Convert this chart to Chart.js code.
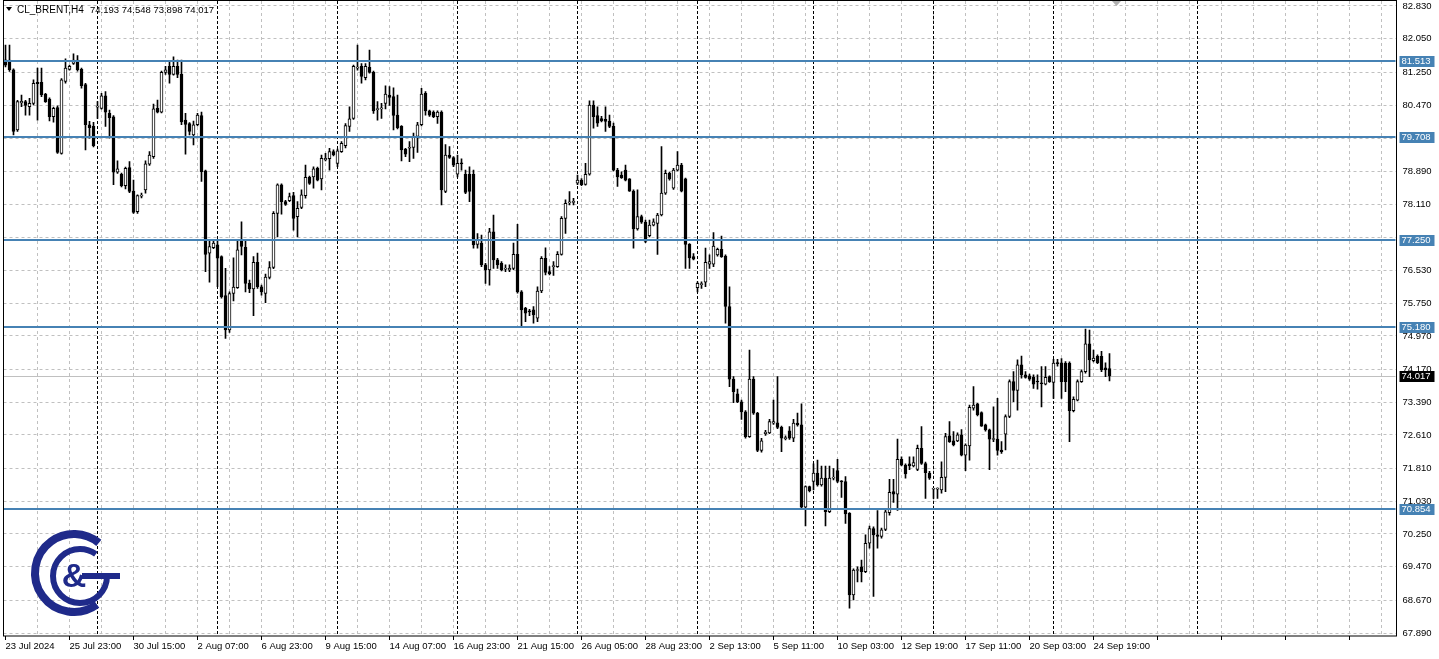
<!DOCTYPE html>
<html>
<head>
<meta charset="utf-8">
<script src="https://cdn.jsdelivr.net/npm/chart.js@4.4.1/dist/chart.umd.min.js"></script>
<style>
  html, body { margin: 0; padding: 0; background: #fff; overflow: hidden; }
</style>
</head>
<body>
<canvas id="myChart" width="1439" height="659"></canvas>
<script>

// CL_BRENT H4 candles, 23 Jul 2024 .. 24 Sep 2024
var opens = [
  81.55,81.54,81.31,79.88,80.52,80.55,80.43,80.51,81.01,81.01,80.73,80.61,80.19,80.41,79.32,81.03,81.32,81.46,81.54,81.32,
  80.96,80.00,79.96,80.42,80.39,80.69,80.27,80.19,78.87,78.82,78.55,78.98,78.42,77.93,78.30,78.45,79.06,79.24,80.39,80.30,
  81.25,81.39,81.20,81.39,81.20,80.11,80.03,79.76,80.00,80.22,78.90,76.94,77.07,77.14,76.86,75.93,75.11,75.98,76.12,77.22,
  77.08,76.22,76.09,76.72,76.14,75.98,76.36,76.60,77.89,78.57,78.17,78.19,78.31,77.81,78.03,78.31,78.75,78.76,78.96,78.71,
  79.16,79.19,79.36,79.08,79.36,79.50,79.96,80.15,81.35,81.39,81.12,81.37,81.25,80.36,80.38,80.51,80.71,80.67,80.23,79.96,
  79.42,79.44,79.46,79.72,80.00,80.75,80.33,80.30,80.19,80.30,78.41,79.28,79.22,78.82,79.08,78.82,78.82,78.82,77.15,77.18,
  76.66,76.54,77.45,76.78,76.70,76.56,76.54,76.58,76.91,76.02,75.63,75.55,75.59,75.39,76.04,76.82,76.50,76.62,76.62,76.91,
  77.77,78.14,78.15,78.61,78.68,78.58,78.82,80.47,80.22,80.15,80.13,80.09,79.96,78.92,78.80,78.92,78.71,78.42,77.52,77.81,
  77.68,77.36,77.61,77.65,77.85,78.37,78.84,78.49,78.92,79.04,78.71,77.15,76.86,76.12,76.19,76.25,76.68,76.68,76.90,77.03,
  76.87,75.67,73.94,73.59,73.40,73.16,72.57,73.94,73.13,72.24,72.64,72.66,72.89,72.90,72.79,72.52,72.71,72.53,72.89,72.85,
  70.89,71.38,71.50,71.70,71.42,71.58,70.78,71.58,71.76,71.50,71.50,70.74,68.80,69.38,69.47,69.35,70.03,70.38,70.23,70.19,
  70.36,70.76,71.26,71.20,72.03,71.89,71.92,71.87,71.79,72.29,71.93,71.70,71.32,71.32,71.30,71.60,72.59,72.47,72.47,72.61,
  72.13,72.35,73.25,73.35,73.14,72.85,72.73,72.50,72.51,72.25,72.63,73.05,73.88,73.67,74.28,74.04,74.02,73.98,73.88,73.84,
  73.82,74.00,73.86,74.32,74.33,74.32,74.32,73.19,73.44,73.88,74.12,74.78,74.38,74.48,74.48,74.21,74.193
];
var highs = [
  81.90,81.90,81.33,80.58,80.71,80.58,80.63,81.07,81.35,81.35,80.75,80.64,80.42,80.45,81.10,81.57,81.42,81.69,81.65,81.35,
  80.99,80.08,80.06,80.55,80.75,80.79,80.35,80.22,79.14,78.85,78.99,79.12,78.68,78.33,78.37,79.14,79.36,80.49,80.59,81.28,
  81.39,81.50,81.62,81.54,81.54,80.27,80.05,80.09,80.27,80.30,78.92,77.22,77.26,77.22,76.88,76.58,76.02,76.83,77.23,77.69,
  77.23,76.30,76.86,76.94,76.18,76.44,76.74,77.93,78.59,78.59,78.20,78.37,78.39,78.17,78.45,79.04,78.78,79.00,78.99,79.28,
  79.32,79.44,79.40,79.42,79.60,80.03,80.43,81.42,81.90,81.46,81.46,81.78,81.28,80.55,80.51,80.93,80.91,80.88,80.71,79.98,
  79.44,79.60,79.80,80.06,80.87,80.79,80.35,80.33,80.33,80.33,79.53,79.48,79.24,79.28,79.19,78.92,79.00,78.92,77.41,77.37,
  76.70,77.53,77.85,76.82,76.74,76.66,76.66,77.18,77.63,76.05,75.65,75.60,75.67,76.14,76.86,77.07,76.62,76.74,76.98,77.81,
  78.21,78.41,78.25,78.80,78.72,79.08,80.57,80.57,80.43,80.20,80.43,80.23,80.04,78.96,78.88,79.04,78.72,78.45,78.45,77.85,
  77.73,77.73,77.76,77.89,79.48,78.92,78.87,78.96,79.36,79.08,78.73,77.17,76.93,76.26,76.26,77.06,76.90,77.43,77.06,77.35,
  76.90,76.14,74.00,73.70,73.44,73.19,74.63,74.00,73.15,72.53,72.72,72.98,73.44,74.00,72.82,72.59,72.81,72.98,73.13,73.35,
  71.40,71.39,71.92,72.01,71.87,71.87,71.87,71.81,72.03,71.52,71.62,70.76,69.42,69.47,69.63,70.23,70.44,70.42,70.81,70.39,
  70.82,71.55,71.55,72.51,72.09,71.92,72.09,72.09,72.37,72.81,71.96,71.74,71.34,71.35,71.97,72.65,72.93,72.69,72.66,72.74,
  72.40,73.32,73.76,73.36,73.16,72.87,72.75,73.28,73.48,72.45,73.09,73.92,74.12,74.40,74.49,74.12,74.06,74.04,74.04,74.24,
  74.24,74.02,74.41,74.41,74.43,74.36,74.35,73.52,73.92,74.16,75.13,75.11,74.63,74.52,74.60,74.33,74.548
];
var lows = [
  81.38,81.27,79.76,79.84,80.43,80.23,80.23,80.47,80.11,80.67,80.53,80.09,80.06,79.32,79.30,80.99,81.30,81.44,81.28,80.87,
  79.40,79.68,79.47,80.15,80.37,79.96,79.68,78.57,78.84,78.52,78.47,78.38,77.89,77.89,78.26,78.37,79.03,79.20,80.28,80.28,
  81.20,80.99,81.18,81.12,80.00,79.30,79.76,79.52,79.97,78.65,76.50,76.25,77.05,76.14,75.87,74.91,75.05,75.80,76.10,76.90,
  76.02,76.00,75.45,76.10,75.94,75.76,76.33,76.57,77.33,77.87,78.08,78.17,77.49,77.33,78.00,78.25,78.58,78.49,78.66,78.45,
  79.14,78.92,79.26,79.00,79.34,79.45,79.84,80.13,81.30,80.99,81.07,81.23,80.27,80.11,80.15,80.38,80.46,79.88,79.90,79.14,
  79.24,79.12,79.20,79.34,79.97,80.23,80.20,80.17,80.03,78.09,78.38,79.20,79.00,78.76,78.92,78.36,78.17,77.06,77.06,76.62,
  76.22,76.18,76.58,76.58,76.52,76.50,76.50,76.55,75.99,75.19,75.31,75.45,75.27,75.31,76.00,76.42,76.42,76.41,76.60,76.89,
  77.41,78.09,78.09,78.57,78.55,78.56,78.80,79.92,79.96,80.07,79.84,79.93,78.90,78.53,78.72,78.66,78.41,77.06,77.49,77.65,
  77.19,77.33,77.59,76.91,77.83,78.34,78.68,78.46,78.90,78.40,76.58,76.58,76.78,76.02,76.10,76.14,76.58,76.62,76.87,76.84,
  75.27,73.76,73.38,73.38,72.98,72.53,72.55,73.10,72.21,72.20,72.60,72.64,72.86,72.76,72.21,72.49,72.50,72.45,72.82,70.86,
  70.44,71.25,71.30,71.39,71.39,70.44,70.76,71.54,71.47,71.12,70.50,68.48,68.68,69.11,69.11,69.33,69.91,68.76,69.91,70.15,
  70.33,70.70,71.00,70.81,71.87,71.58,71.78,71.85,71.76,71.91,71.10,71.55,71.10,71.10,71.22,71.26,72.43,72.35,72.45,72.11,
  71.76,72.01,73.20,73.06,72.81,72.70,71.78,72.45,72.13,72.17,72.25,73.02,73.40,73.20,73.96,73.96,73.91,73.72,73.70,73.28,
  73.80,73.86,73.48,74.25,73.48,73.64,72.45,73.16,73.42,73.86,74.08,74.00,74.35,74.31,74.12,74.00,73.898
];
var closes = [
  81.42,81.31,79.84,80.55,80.56,80.46,80.51,80.99,80.98,80.71,80.55,80.19,80.39,79.34,81.07,81.35,81.39,81.54,81.31,80.93,
  80.00,79.93,79.50,80.44,80.69,80.30,80.17,78.87,78.95,78.55,78.96,78.41,77.91,78.31,78.32,79.07,79.28,80.38,80.30,81.25,
  81.31,81.20,81.39,81.20,80.07,80.01,79.84,80.00,80.23,78.88,76.91,77.10,77.18,76.82,75.90,75.11,75.98,76.13,77.02,77.10,
  76.22,76.09,76.72,76.14,76.02,76.37,76.60,77.89,78.57,78.17,78.10,78.29,77.77,78.01,78.33,78.75,78.60,78.95,78.68,79.20,
  79.20,79.36,79.28,79.38,79.56,79.98,80.14,81.39,81.37,81.15,81.39,81.25,80.33,80.38,80.39,80.73,80.65,80.22,79.93,79.40,
  79.30,79.45,79.72,80.00,80.73,80.33,80.23,80.19,80.30,78.45,79.28,79.22,79.04,79.08,79.07,78.39,78.41,77.14,77.26,76.66,
  76.54,77.45,76.78,76.66,76.54,76.57,76.58,76.91,76.02,75.59,75.51,75.54,75.47,76.04,76.82,76.48,76.45,76.63,76.91,77.77,
  78.13,78.15,78.16,78.68,78.57,78.82,80.47,80.19,80.04,80.09,80.08,79.96,78.92,78.76,78.74,78.68,78.42,77.52,77.81,77.68,
  77.22,77.61,77.69,77.85,78.37,78.84,78.71,78.92,79.04,78.42,77.15,76.83,76.80,76.22,76.20,76.72,76.74,77.11,77.03,76.86,
  75.67,73.94,73.64,73.40,73.16,72.57,73.94,73.13,72.24,72.47,72.68,72.93,72.93,72.79,72.53,72.53,72.53,72.89,72.85,70.89,
  71.38,71.28,71.70,71.42,71.58,70.78,71.58,71.59,71.50,71.49,70.73,68.80,69.39,69.40,69.35,70.03,70.38,70.23,70.19,70.35,
  70.78,71.24,71.20,72.03,71.89,71.68,71.87,71.95,72.29,71.93,71.71,71.58,71.32,71.33,71.60,72.57,72.45,72.37,72.61,72.13,
  72.37,73.27,73.32,73.09,72.82,72.73,72.51,72.51,72.24,72.21,73.05,73.88,73.67,74.28,74.04,73.98,73.94,73.82,73.87,73.83,
  73.98,73.88,74.32,74.31,73.88,73.88,73.19,73.46,73.88,74.12,74.78,74.40,74.44,74.33,74.16,74.16,74.017
];

// time axis: one slot per H4 bar plus the empty shift area on the right
var totalSlots = 348;
var dateLabels = ['23 Jul 2024', '25 Jul 23:00', '30 Jul 15:00', '2 Aug 07:00', '6 Aug 23:00', '9 Aug 15:00',
  '14 Aug 07:00', '16 Aug 23:00', '21 Aug 15:00', '26 Aug 05:00', '28 Aug 23:00', '2 Sep 13:00',
  '5 Sep 11:00', '10 Sep 03:00', '12 Sep 19:00', '17 Sep 11:00', '20 Sep 03:00', '24 Sep 19:00'];
var labelEvery = 16;
var gridEvery = 8;
var weekStarts = [23, 53, 83, 113, 143, 173, 202, 232, 262, 298];

var priceTicks = [82.830, 82.050, 81.250, 80.470, 79.670, 78.890, 78.110, 77.310, 76.530, 75.750,
  74.970, 74.170, 73.390, 72.610, 71.810, 71.030, 70.250, 69.470, 68.670, 67.890];
var levels = [81.513, 79.708, 77.250, 75.180, 70.854];
var lastPrice = 74.017;
var symbolTitle = 'CL_BRENT,H4';
var ohlcTitle = '74.193 74.548 73.898 74.017';

var FONT = "'Liberation Sans', Arial, sans-serif";

var slots = [];
for (var i = 0; i < totalSlots; i++) slots.push(String(i));

// a price label sitting right under a level box is hidden, as in the terminal
function hiddenByLevel(v) {
  return levels.some(function (l) { return Math.abs(l - v) < 0.1; });
}

var separators = {
  id: 'separators',
  beforeDatasetsDraw: function (chart) {
    var ctx = chart.ctx, a = chart.chartArea, x = chart.scales.x, y = chart.scales.y;
    ctx.save();
    ctx.strokeStyle = '#000';
    ctx.lineWidth = 1;
    ctx.setLineDash([3, 2]);
    weekStarts.forEach(function (b) {
      var px = Math.round(x.getPixelForValue(b) - 0.5) + 0.5;
      ctx.beginPath();
      ctx.moveTo(px, a.top);
      ctx.lineTo(px, a.bottom);
      ctx.stroke();
    });
    // bid line
    ctx.setLineDash([]);
    ctx.strokeStyle = '#c0c0c0';
    var py = Math.round(y.getPixelForValue(lastPrice)) + 0.5;
    ctx.beginPath();
    ctx.moveTo(a.left, py);
    ctx.lineTo(a.right, py);
    ctx.stroke();
    ctx.restore();
  },
  afterDatasetsDraw: function (chart) {
    var ctx = chart.ctx, a = chart.chartArea, y = chart.scales.y;
    ctx.save();
    ctx.strokeStyle = '#4682b4';
    ctx.lineWidth = 2;
    levels.forEach(function (v) {
      var py = Math.round(y.getPixelForValue(v));
      ctx.beginPath();
      ctx.moveTo(a.left, py);
      ctx.lineTo(a.right, py);
      ctx.stroke();
    });
    ctx.restore();
  },
  afterDraw: function (chart) {
    var ctx = chart.ctx, a = chart.chartArea, y = chart.scales.y;
    ctx.save();
    // price boxes on the right axis
    ctx.font = '9.5px ' + FONT;
    ctx.textBaseline = 'middle';
    ctx.textAlign = 'left';
    function box(v, fill) {
      var py = Math.round(y.getPixelForValue(v));
      ctx.fillStyle = fill;
      ctx.fillRect(a.right + 4, py - 5, 35, 11);
      ctx.fillStyle = '#fff';
      ctx.fillText(v.toFixed(3), a.right + 6, py + 0.5);
    }
    levels.forEach(function (v) { box(v, '#4682b4'); });
    box(lastPrice, '#000');

    // frame
    ctx.strokeStyle = '#000';
    ctx.lineWidth = 1;
    ctx.strokeRect(Math.round(a.left) - 0.5, 0.5, Math.round(a.right - a.left) + 1, Math.round(a.bottom) - 0.5);

    // title
    ctx.fillStyle = '#000';
    ctx.beginPath();
    ctx.moveTo(6, 7); ctx.lineTo(12, 7); ctx.lineTo(9, 11); ctx.closePath(); ctx.fill();
    ctx.font = '10px ' + FONT;
    ctx.fillText(symbolTitle, 17, 10);
    ctx.font = '9.5px ' + FONT;
    ctx.fillText(ohlcTitle, 90, 10);

    // shift marker
    ctx.fillStyle = '#b0b0b0';
    ctx.beginPath();
    ctx.moveTo(1112, 1); ctx.lineTo(1121, 1); ctx.lineTo(1116.5, 6); ctx.closePath(); ctx.fill();

    // logo
    var navy = '#1f2a8a';
    ctx.strokeStyle = navy;
    ctx.fillStyle = navy;
    ctx.lineWidth = 8;
    ctx.beginPath();
    ctx.arc(74, 573, 39, 0.3 * Math.PI, 1.72 * Math.PI);
    ctx.stroke();
    ctx.lineWidth = 6;
    ctx.beginPath();
    ctx.arc(80, 576, 27, 0.0 * Math.PI, 1.7 * Math.PI);
    ctx.stroke();
    ctx.beginPath();
    ctx.moveTo(82, 576); ctx.lineTo(120, 576);
    ctx.stroke();
    ctx.font = 'bold 34px ' + FONT;
    ctx.textAlign = 'center';
    ctx.fillText('&', 74, 578);
    ctx.restore();
  }
};

function viewChart() {
  var ctx = document.getElementById('myChart').getContext('2d');

  var myChart = new Chart(ctx, {
    type: 'bar',
    data: {
      labels: slots,
      datasets: [{
        label: 'wick',
        data: lows.map(function (l, i) { return [l, highs[i]]; }),
        backgroundColor: '#000',
        barThickness: 1,
        grouped: false,
        order: 2
      }, {
        label: 'body',
        data: opens.map(function (o, i) { return [o, closes[i]]; }),
        backgroundColor: opens.map(function (o, i) { return closes[i] >= o ? '#fff' : '#000'; }),
        borderColor: '#000',
        borderWidth: 1,
        borderSkipped: false,
        barThickness: 3,
        minBarLength: 1,
        grouped: false,
        order: 1
      }]
    },
    options: {
      responsive: false,
      devicePixelRatio: 1,
      animation: false,
      events: [],
      layout: { padding: { left: 3.5, top: 1, right: 0, bottom: 0 } },
      plugins: { legend: { display: false }, tooltip: { enabled: false } },
      scales: {
        x: {
          type: 'category',
          offset: true,
          afterFit: function (s) {
            s.height = 23;
            s.paddingLeft = 0; s.paddingRight = 0; s.paddingTop = 0; s.paddingBottom = 0;
          },
          border: { display: false, dash: [3, 3] },
          grid: {
            offset: false,
            color: function (c) { return c.index > 0 && c.index % gridEvery === 0 ? '#c0c0c0' : 'rgba(0,0,0,0)'; },
            tickColor: function (c) { return c.index % labelEvery === 0 ? '#000' : 'rgba(0,0,0,0)'; },
            tickLength: 4
          },
          ticks: {
            autoSkip: false,
            maxRotation: 0,
            minRotation: 0,
            align: 'start',
            padding: 1,
            color: '#000',
            font: { family: FONT, size: 9.5 },
            callback: function (v, i) { return i % labelEvery === 0 ? (dateLabels[i / labelEvery] || '') : ''; }
          }
        },
        y: {
          position: 'right',
          min: 67.819,
          max: 82.949,
          afterFit: function (s) {
            s.width = 43.5;
            s.paddingLeft = 0; s.paddingRight = 0; s.paddingTop = 0; s.paddingBottom = 0;
          },
          afterBuildTicks: function (s) { s.ticks = priceTicks.map(function (v) { return { value: v }; }); },
          border: { display: false, dash: [3, 3] },
          grid: { color: '#c0c0c0', drawTicks: false },
          ticks: {
            padding: 7,
            color: '#000',
            font: { family: FONT, size: 9.5 },
            callback: function (v) { return hiddenByLevel(v) ? '' : Number(v).toFixed(3); }
          }
        }
      }
    },
    plugins: [separators]
  });
}
viewChart();
</script>
</body>
</html>
